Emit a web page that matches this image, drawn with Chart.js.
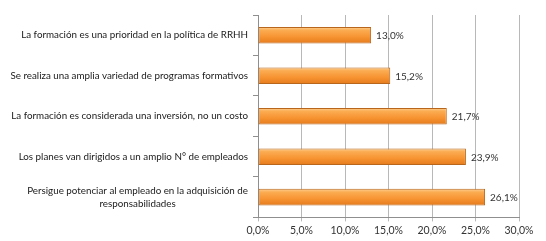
<!DOCTYPE html>
<html lang="es">
<head>
<meta charset="UTF-8">
<title>Formación</title>
<script src="https://cdn.jsdelivr.net/npm/chart.js"></script>
<style>
  body { margin: 0; background: #ffffff; }
  #wrap { width: 546px; height: 241px; }
</style>
</head>
<body>
<div id="wrap"><canvas id="chart"></canvas></div>
<script>
// datos
const categories = [
  'La formación es una prioridad en la política de RRHH',
  'Se realiza una amplia variedad de programas formativos',
  'La formación es considerada una inversión, no un costo',
  'Los planes van dirigidos a un amplio N° de empleados',
  ['Persigue potenciar al empleado en la adquisición de', 'responsabilidades']
];
const values = [13.0, 15.2, 21.7, 23.9, 26.1];
const xTicks = [0, 5, 10, 15, 20, 25, 30];

const FONT = 'Lato, "Liberation Sans", sans-serif';
const pct = v => v.toFixed(1).replace('.', ',') + '%';

// degradado naranja de las barras (calculado a partir de la escala y)
function barGradient(ctx) {
  const chart = ctx.chart;
  const y = chart.scales.y;
  if (!chart.chartArea || !y || ctx.dataIndex === undefined) return '#f79646';
  const cy = y.getPixelForValue(ctx.dataIndex);
  const half = 9;
  const g = chart.ctx.createLinearGradient(0, cy - half, 0, cy + half);
  g.addColorStop(0, '#fdd9a4');
  g.addColorStop(0.22, '#fbac52');
  g.addColorStop(0.6, '#f79331');
  g.addColorStop(1, '#e2781a');
  return g;
}

// etiquetas de categoría (líneas centradas entre sí, bloque alineado a la derecha)
const catLabels = {
  id: 'catLabels',
  afterDraw(chart) {
    const { ctx, scales: { y } } = chart;
    ctx.save();
    ctx.font = '9.8px ' + FONT;
    ctx.fillStyle = '#1a1a1a';
    ctx.textAlign = 'center';
    ctx.textBaseline = 'middle';
    const right = 248, lh = 13;
    categories.forEach((lab, i) => {
      const lines = Array.isArray(lab) ? lab : [lab];
      const w = Math.max(...lines.map(l => ctx.measureText(l).width));
      const cx = right - w / 2;
      const cy = y.getPixelForValue(i);
      lines.forEach((l, k) => {
        ctx.fillText(l, cx, cy + (k - (lines.length - 1) / 2) * lh);
      });
    });
    ctx.restore();
  }
};

// valores al final de cada barra
const valueLabels = {
  id: 'valueLabels',
  afterDatasetsDraw(chart) {
    const { ctx } = chart;
    const meta = chart.getDatasetMeta(0);
    ctx.save();
    ctx.font = '10px ' + FONT;
    ctx.fillStyle = '#333333';
    ctx.textAlign = 'left';
    ctx.textBaseline = 'middle';
    meta.data.forEach((bar, i) => {
      ctx.fillText(pct(values[i]), bar.x + 5, bar.y + 1);
    });
    ctx.restore();
  }
};

new Chart(document.getElementById('chart'), {
  type: 'bar',
  data: {
    labels: categories,
    datasets: [{
      data: values,
      backgroundColor: barGradient,
      borderColor: '#b8661c',
      borderWidth: 1,
      borderSkipped: false,
      barPercentage: 0.82,
      categoryPercentage: 0.5
    }]
  },
  options: {
    indexAxis: 'y',
    responsive: true,
    maintainAspectRatio: false,
    animation: false,
    layout: { padding: { top: 3, right: 27, bottom: 1, left: 0 } },
    plugins: {
      legend: { display: false },
      tooltip: { enabled: false }
    },
    scales: {
      x: {
        min: 0,
        max: 30,
        afterBuildTicks: s => { s.ticks = xTicks.map(v => ({ value: v })); },
        ticks: {
          callback: v => pct(v),
          font: { family: FONT, size: 10.5 },
          color: '#333333',
          padding: 3,
          maxRotation: 0
        },
        grid: { color: '#b8b8b8', tickLength: 4, lineWidth: 1 },
        border: { color: '#8f8f8f' }
      },
      y: {
        afterFit: s => { s.width = 258; },
        ticks: { color: 'rgba(0,0,0,0)', font: { family: FONT, size: 10 } },
        grid: { drawOnChartArea: false, tickLength: 5, color: '#8f8f8f', offset: true },
        border: { color: '#8f8f8f' }
      }
    }
  },
  plugins: [catLabels, valueLabels]
});
</script>
</body>
</html>
